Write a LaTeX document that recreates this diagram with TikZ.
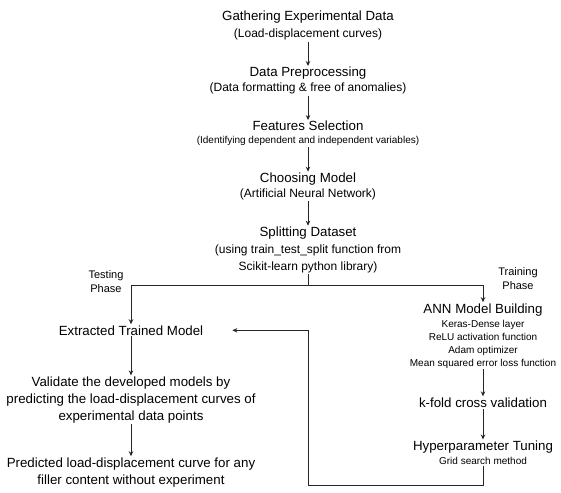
\documentclass[tikz,border=0pt]{standalone}
\usepackage{fontspec}
\setmainfont{Liberation Sans}
\usetikzlibrary{arrows.meta, positioning, calc}

\newcommand{\bigtxt}{\fontsize{13.3}{17}\selectfont}
\newcommand{\midtxt}{\fontsize{12}{17}\selectfont}
\newcommand{\smalltxt}{\fontsize{10}{12.5}\selectfont}

\begin{document}
\begin{tikzpicture}[
  node distance=24.5pt and 2cm,
  every node/.style={align=center, inner sep=1pt, font=\bigtxt},
  arrow/.style={-{Stealth[length=5pt,width=4.5pt]}, line width=1pt, draw=black!85},
  link/.style={line width=1pt, draw=black!85},
  phase/.style={font=\fontsize{11}{14}\selectfont},
]
  \useasboundingbox (0,0) rectangle (561pt,-492pt);

  % main column
  \node (gather) at (308pt,-10pt) [anchor=north]
    {Gathering Experimental Data\\{\midtxt(Load-displacement curves)}};
  \node (prep) [below=of gather]
    {Data Preprocessing\\[-2pt]{\midtxt(Data formatting \& free of anomalies)}};
  \node (feat) [below=of prep]
    {Features Selection\\[-4pt]{\smalltxt(Identifying dependent and independent variables)}};
  \node (choose) [below=of feat]
    {Choosing Model\\[-2pt]{\midtxt(Artificial Neural Network)}};
  \node (split) [below=of choose]
    {Splitting Dataset\\{\midtxt(using train\_test\_split function from}\\{\midtxt Scikit-learn python library)}};
  \coordinate (fork) at ($(split.south)+(0,-11pt)$);

  % testing side
  \node (testlbl) [phase] at ($(fork)+(-202pt,4pt)$) {Testing\\Phase};
  \node (extract) [below=50pt of split, xshift=-177pt] {Extracted Trained Model};
  \node (validate) [below=39pt of extract]
    {Validate the developed models by\\predicting the load-displacement curves of\\experimental data points};
  \node (predict) [below=32pt of validate]
    {Predicted load-displacement curve for any\\filler content without experiment};

  % training side
  \node (trainlbl) [phase] at ($(fork)+(210pt,7pt)$) {Training\\Phase};
  \node (ann) [below=28pt of split, xshift=175pt]
    {ANN Model Building\\[-3pt]{\smalltxt Keras-Dense layer}\\[-4pt]{\smalltxt ReLU activation function}\\[-4pt]
     {\smalltxt Adam optimizer}\\[-4pt]{\smalltxt Mean squared error loss function}};
  \node (kfold) [below=27pt of ann] {k-fold cross validation};
  \node (hyper) [below=31pt of kfold]
    {Hyperparameter Tuning\\[-3pt]{\smalltxt Grid search method}};
  \coordinate (bot) at ($(hyper.south)+(0,-20pt)$);
  \coordinate (ret) at ($(extract.east)+(104pt,0)$);
  \coordinate (tip) at ($(extract.east)+(28pt,0)$);

  \draw[arrow] (gather) -- (prep);
  \draw[arrow] (prep) -- (feat);
  \draw[arrow] (feat) -- (choose);
  \draw[arrow] (choose) -- (split);
  \draw[link] (split) -- (fork);
  \draw[arrow] (fork) -| (extract);
  \draw[arrow] (fork) -| (ann);
  \draw[arrow] (extract) -- (validate);
  \draw[arrow] (validate) -- (predict);
  \draw[arrow] (ann) -- (kfold);
  \draw[arrow] (kfold) -- (hyper);
  \draw[arrow] (hyper) -- (bot) -| (ret) -- (tip);
\end{tikzpicture}
\end{document}
